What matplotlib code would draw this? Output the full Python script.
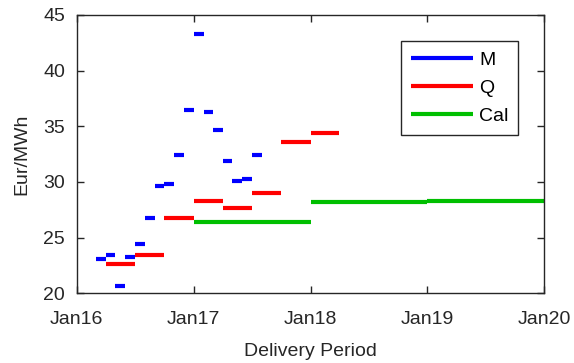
import numpy as np
import pandas as pd
import matplotlib
matplotlib.use("Agg")
import matplotlib.pyplot as plt
import matplotlib.dates as mdates

plt.rcParams["font.family"] = ["Liberation Sans", "DejaVu Sans"]

# Monthly products (delivery start, price in Eur/MWh)
month_start = pd.date_range("2016-03-01", "2017-07-01", freq="MS")
month_price = [23.1, 23.4, 20.7, 23.3, 24.4, 26.8, 29.6, 29.8, 32.4, 36.5,
               43.3, 36.3, 34.7, 31.9, 30.1, 30.3, 32.4]

# Quarterly products
quarter_start = pd.date_range("2016-04-01", "2018-01-01", freq="QS")
quarter_price = [22.6, 23.4, 26.8, 28.3, 27.7, 29.0, 33.6, 34.4]

# Calendar year products
cal_start = pd.date_range("2017-01-01", "2019-01-01", freq="YS")
cal_price = [26.4, 28.2, 28.3]

series = [
    ("M", month_start, month_price, pd.DateOffset(months=1), (0, 0, 1)),
    ("Q", quarter_start, quarter_price, pd.DateOffset(months=3), (1, 0, 0)),
    ("Cal", cal_start, cal_price, pd.DateOffset(years=1), (0, 0.75, 0)),
]

fs = 14
fig = plt.figure(figsize=(5.74, 3.63), dpi=100)
ax = fig.add_axes([0.1336, 0.192, 0.8146, 0.7667])

for label, start, price, length, color in series:
    end = start + length
    ax.hlines(price, mdates.date2num(start), mdates.date2num(end),
              colors=[color], linewidth=3, label=label)

ax.set_xlim(mdates.date2num(pd.Timestamp("2016-01-01")),
            mdates.date2num(pd.Timestamp("2020-01-01")))
ax.set_ylim(20, 45)
ax.xaxis.set_major_locator(mdates.YearLocator())
ax.xaxis.set_major_formatter(mdates.DateFormatter("%b%y"))
ax.set_yticks(np.arange(20, 46, 5))

edge = "#262626"
for sp in ax.spines.values():
    sp.set_color(edge)
    sp.set_linewidth(1.0)
ax.tick_params(direction="in", length=5, width=1, color=edge,
               labelsize=fs, labelcolor=edge, top=True, right=True)
ax.tick_params(axis="x", pad=12.5)
ax.tick_params(axis="y", pad=8.5)

ax.set_xlabel("Delivery Period", fontsize=fs, color=edge, labelpad=11)
ax.set_ylabel("Eur/MWh", fontsize=fs, color=edge, labelpad=9)

leg = ax.legend(loc="upper right", bbox_to_anchor=(0.944, 0.9055),
                borderaxespad=0, fontsize=fs, handlelength=3.2,
                handletextpad=0.3, labelspacing=0.55, borderpad=0.5,
                fancybox=False, framealpha=1, edgecolor=edge)
leg.get_frame().set_linewidth(1.0)
for line in leg.get_lines():
    line.set_linewidth(3)

fig.savefig("out.png", dpi=100)
